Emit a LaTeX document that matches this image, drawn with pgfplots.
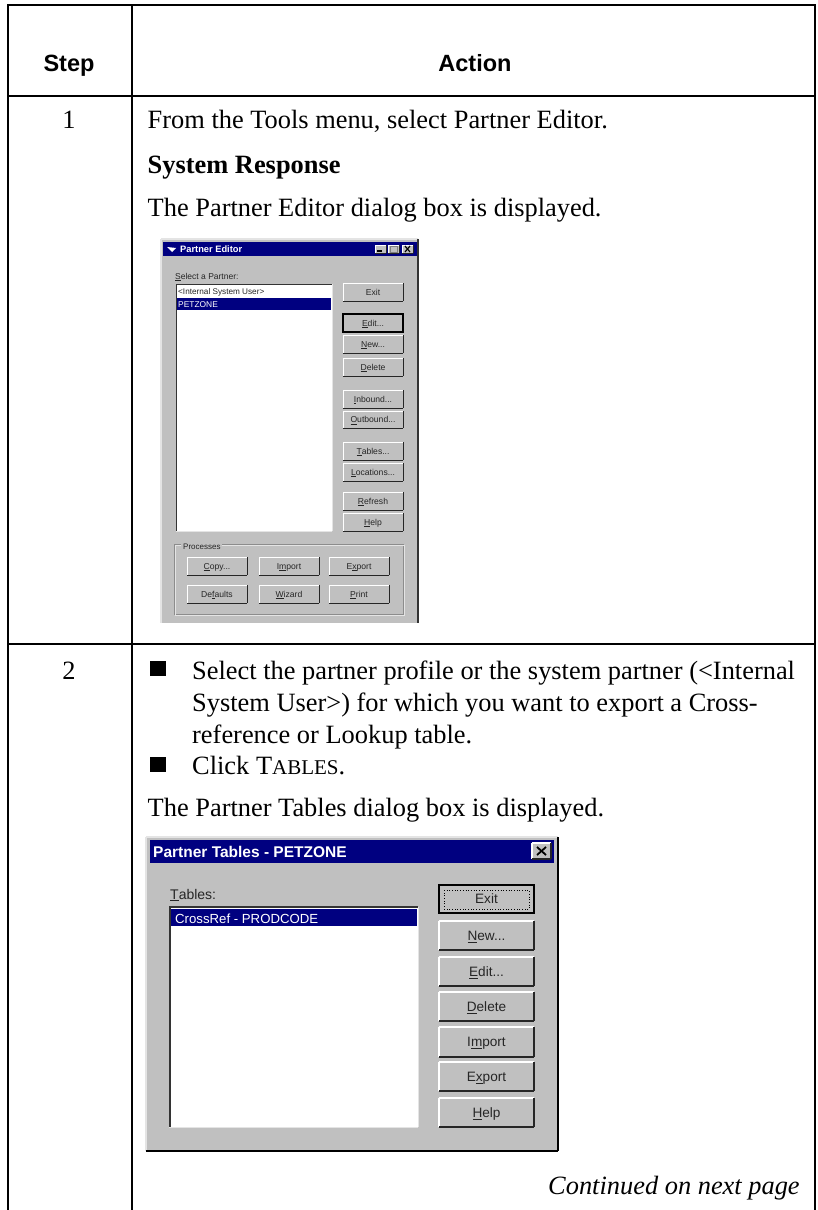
\documentclass[border=0pt]{standalone}
\usepackage{pgfplots}
\pgfplotsset{compat=1.18}
\usepackage{fontspec}
\setmainfont{Liberation Serif}
\newfontfamily\ars{Liberation Sans}
\usetikzlibrary{calc}
\definecolor{win}{HTML}{C0C0C0}
\definecolor{nav}{HTML}{000080}
\definecolor{lite}{HTML}{E4E4E4}
\newcommand\fs[1]{\fontsize{#1bp}{#1bp}\selectfont}
\newcommand\rect[5]{\addplot[fill=#5,draw=none,forget plot] coordinates {(#1,#2)(#3,#2)(#3,#4)(#1,#4)} --cycle;}
\newcommand\lin[6]{\addplot[draw=#5,line width=#6bp,forget plot] coordinates {(#1,#2)(#3,#4)};}
\newcommand\txt[4]{\node[anchor=base west,inner sep=0pt,font=#3] at (axis cs:#1,#2) {#4};}
\newcommand\ctx[4]{\node[anchor=base,inner sep=0pt,font=#3] at (axis cs:#1,#2) {#4};}
\newcommand\bevel[5]{%
 \rect{#1}{#2}{#3}{#4}{win}
 \lin{#1}{#2}{#3}{#2}{white}{#5}
 \lin{#1}{#2}{#1}{#4}{white}{#5}
 \lin{#1}{#4}{#3}{#4}{black!85}{#5}
 \lin{#3}{#2}{#3}{#4}{black!85}{#5}}
\newcommand\core[7]{\bevel{#1}{#2}{#3}{#4}{#6}
 \node[inner sep=0pt,font=\ars\fs{#7}\color{black!85}] at ($(axis cs:#1,#2)!0.5!(axis cs:#3,#4)$) {\rule{0pt}{0.72em}\smash{#5}};}
\newcommand\btn[5]{\core{#1}{#2}{#3}{#4}{#5}{1}{8.6}}
\newcommand\btnb[5]{\core{#1}{#2}{#3}{#4}{#5}{1.3}{13.6}}
\newcommand\dflt[4]{\addplot[draw=black,line width=1.6bp,forget plot] coordinates {(#1,#2)(#3,#2)(#3,#4)(#1,#4)} --cycle;}
\newcommand\ul[1]{\underline{#1}}
\begin{document}
\begin{tikzpicture}
\begin{axis}[scale only axis,width=818bp,height=1210bp,xmin=0,xmax=818,ymin=0,ymax=1210,y dir=reverse,hide axis,no markers]
\rect{0}{0}{818}{1210}{white}
% table rules
\lin{8}{5}{8}{1210}{black}{2.6}
\lin{132}{5}{132}{1210}{black}{2.6}
\lin{815}{5}{815}{1210}{black}{2.6}
\lin{7}{5}{816}{5}{black}{2.6}
\lin{7}{96}{816}{96}{black}{2.6}
\lin{7}{644}{816}{644}{black}{2.6}
% header
\ctx{69}{72}{\ars\bfseries\fs{23.5}}{Step}
\ctx{475}{72}{\ars\bfseries\fs{23.5}}{Action}
% row 1
\ctx{69}{129}{\fs{26.4}}{1}
\txt{147.5}{129}{\fs{26.4}}{From the Tools menu, select Partner Editor.}
\txt{147.5}{174}{\bfseries\fs{26.4}}{System Response}
\txt{147.5}{216}{\fs{26.4}}{The Partner Editor dialog box is displayed.}
% row 2
\ctx{69}{679}{\fs{26.4}}{2}
\rect{150}{661}{166}{676}{black}
\rect{150}{757}{166}{772}{black}
\txt{192}{679}{\fs{26.4}}{Select the partner profile or the system partner (<Internal}
\txt{192}{711}{\fs{26.4}}{System User>) for which you want to export a Cross-}
\txt{192}{743}{\fs{26.4}}{reference or Lookup table.}
\txt{192}{774}{\fs{26.4}}{Click T{\fs{21}ABLES}.}
\txt{147.5}{816}{\fs{26.4}}{The Partner Tables dialog box is displayed.}
\txt{548}{1194}{\itshape\fs{26.4}}{Continued on next page}
% ---------- dialog 1
\rect{161}{239}{418}{623}{win}
\lin{161}{239}{418}{239}{lite}{1.5}
\lin{161}{239}{161}{623}{lite}{1.5}
\lin{418}{239}{418}{623}{black!80}{1.2}
\rect{163}{242}{417}{256}{nav}
\txt{180}{252}{\ars\bfseries\fs{9.3}\color{white}}{Partner Editor}
\addplot[fill=white,draw=none,forget plot] coordinates {(167,247)(176,248)(172,252)} --cycle;
\btn{375}{245}{386}{253}{}
\lin{377}{251}{382}{251}{black}{1.2}
\btn{388}{245}{399}{253}{}
\addplot[draw=black!50,line width=0.8bp,forget plot] coordinates {(390,246)(397,246)(397,252)(390,252)} --cycle;
\btn{402}{245}{413}{253}{}
\lin{405}{246}{410}{252}{black}{1.2}
\lin{410}{246}{405}{252}{black}{1.2}
\txt{175}{279}{\ars\fs{8.5}\color{black!85}}{\ul{S}elect a Partner:}
\rect{176}{284}{332}{531}{white}
\lin{176}{284}{332}{284}{black!80}{1}
\lin{176}{284}{176}{531}{black!80}{1}
\lin{176}{531.5}{332}{531.5}{lite}{1}
\lin{332}{284}{332}{531}{lite}{1}
\txt{178}{294}{\ars\fs{8.2}\color{black!85}}{<Internal System User>}
\rect{177}{298}{331}{310}{nav}
\txt{178}{307}{\ars\fs{8.4}\color{white}}{PETZONE}
\btn{343}{283}{403}{301}{Exit}
\btn{343}{314}{403}{332}{\ul{E}dit...}
\dflt{343}{314}{403}{332}
\btn{343}{335}{403}{353}{\ul{N}ew...}
\btn{343}{358}{403}{376}{\ul{D}elete}
\btn{343}{390}{403}{408}{\ul{I}nbound...}
\btn{343}{411}{403}{428}{\ul{O}utbound...}
\btn{343}{442}{403}{460}{\ul{T}ables...}
\btn{343}{463}{403}{481}{\ul{L}ocations...}
\btn{343}{492}{403}{510}{\ul{R}efresh}
\btn{343}{513}{403}{531}{\ul{H}elp}
% group box
\addplot[draw=black!45,line width=0.8bp,forget plot] coordinates {(174,544)(403,544)(403,614)(174,614)} --cycle;
\addplot[draw=lite,line width=0.7bp,forget plot] coordinates {(175,545)(404,545)(404,615)(175,615)} --cycle;
\rect{181}{540}{222}{550}{win}
\txt{183}{549}{\ars\fs{8}\color{black!85}}{Processes}
\btn{187}{557}{247}{575}{\ul{C}opy...}
\btn{259}{557}{319}{575}{I\ul{m}port}
\btn{329}{557}{389}{575}{E\ul{x}port}
\btn{187}{585}{247}{603}{De\ul{f}aults}
\btn{259}{585}{319}{603}{\ul{W}izard}
\btn{329}{585}{389}{603}{\ul{P}rint}
% ---------- dialog 2
\rect{146}{837}{558}{1151}{win}
\lin{146}{837}{558}{837}{lite}{1.5}
\lin{146}{837}{146}{1151}{lite}{1.5}
\lin{558}{837}{558}{1151}{black}{1.3}
\lin{146}{1151}{558}{1151}{black}{1.3}
\rect{150}{840}{554}{863}{nav}
\txt{153}{857}{\ars\bfseries\fs{15.5}\color{white}}{Partner Tables - PETZONE}
\btnb{532}{843}{551}{859}{}
\lin{537}{847}{546}{855}{black}{1.8}
\lin{546}{847}{537}{855}{black}{1.8}
\txt{170}{899}{\ars\fs{14}\color{black!85}}{\ul{T}ables:}
\rect{169}{907}{418}{1127}{white}
\lin{169}{907}{418}{907}{black!80}{1.4}
\lin{170}{907}{170}{1127}{black!80}{1.4}
\lin{169}{1127.5}{418}{1127.5}{lite}{1}
\lin{418.5}{907}{418.5}{1127}{lite}{1}
\rect{171}{909}{417}{926}{nav}
\txt{175}{923}{\ars\fs{13.2}\color{white}}{CrossRef - PRODCODE}
\btnb{439}{885}{534}{913}{Exit}
\dflt{439}{885}{534}{913}
\addplot[draw=black,line width=0.7bp,dotted,forget plot] coordinates {(444,890)(529,890)(529,909)(444,909)} --cycle;
\btnb{439}{921}{534}{950}{\ul{N}ew...}
\btnb{439}{957}{534}{986}{\ul{E}dit...}
\btnb{439}{992}{534}{1021}{\ul{D}elete}
\btnb{439}{1027}{534}{1057}{I\ul{m}port}
\btnb{439}{1062}{534}{1091}{E\ul{x}port}
\btnb{439}{1098}{534}{1127}{\ul{H}elp}
\end{axis}
\end{tikzpicture}
\end{document}
